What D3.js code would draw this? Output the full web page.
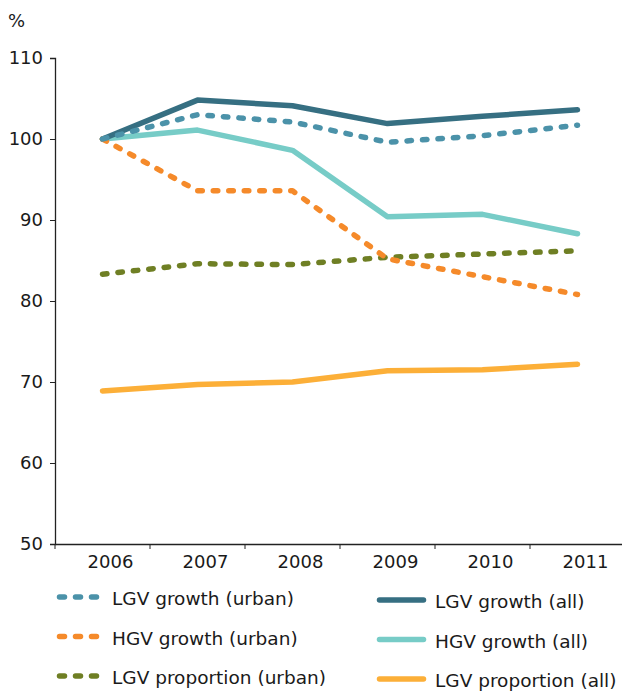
<!DOCTYPE html>
<html>
<head>
<meta charset="utf-8">
<script src="https://cdn.jsdelivr.net/npm/d3@7"></script>
<style>
  body { margin: 0; background: #fff; }
  svg text { font-family: "DejaVu Sans", Verdana, sans-serif; fill: #1a1a1a; }
</style>
</head>
<body>
<div id="chart"></div>
<script>
// data
var years = ["2006", "2007", "2008", "2009", "2010", "2011"];
var yTicks = [50, 60, 70, 80, 90, 100, 110];

var lgvGrowthUrban = [100, 103.0, 102.1, 99.6, 100.4, 101.7];
var hgvGrowthUrban = [100, 93.6, 93.6, 85.2, 83.0, 80.8];
var lgvPropUrban   = [83.3, 84.6, 84.5, 85.4, 85.8, 86.2];
var lgvGrowthAll   = [100, 104.8, 104.1, 101.9, 102.8, 103.6];
var hgvGrowthAll   = [100, 101.1, 98.6, 90.4, 90.7, 88.3];
var lgvPropAll     = [68.9, 69.7, 70.0, 71.4, 71.5, 72.2];

var seriesNames = ["LGV growth (urban)", "HGV growth (urban)", "LGV proportion (urban)",
                   "LGV growth (all)", "HGV growth (all)", "LGV proportion (all)"];

var series = [
  {name: seriesNames[0], values: lgvGrowthUrban, color: "#4b92a9", dashed: true},
  {name: seriesNames[1], values: hgvGrowthUrban, color: "#f58a2a", dashed: true},
  {name: seriesNames[2], values: lgvPropUrban,   color: "#6f7f24", dashed: true},
  {name: seriesNames[3], values: lgvGrowthAll,   color: "#366f82", dashed: false},
  {name: seriesNames[4], values: hgvGrowthAll,   color: "#77ccc7", dashed: false},
  {name: seriesNames[5], values: lgvPropAll,     color: "#fcaf38", dashed: false}
];

var width = 622, height = 692;
var margin = {top: 58, left: 55, right: -3, bottom: 148};

var svg = d3.select("#chart").append("svg")
  .attr("width", width)
  .attr("height", height);

var x = d3.scaleBand()
  .domain(years)
  .range([margin.left, width - margin.right]);

var y = d3.scaleLinear()
  .domain([50, 110])
  .range([height - margin.bottom, margin.top]);

// y axis
var yAxis = svg.append("g")
  .attr("transform", "translate(" + margin.left + ",0)")
  .call(d3.axisLeft(y).tickValues(yTicks).tickSize(5).tickPadding(7));
yAxis.select(".domain").attr("stroke", "#222").attr("stroke-width", 1.3);
yAxis.selectAll(".tick line").attr("stroke", "#222");
yAxis.selectAll("text").attr("font-size", 18).style("fill", "#1a1a1a");

// x axis, ticks sit on band edges
var xAxis = svg.append("g")
  .attr("transform", "translate(0," + (height - margin.bottom) + ")")
  .call(d3.axisBottom(x).tickSize(0).tickPadding(11));
xAxis.select(".domain").attr("stroke", "#222").attr("stroke-width", 1.3);
xAxis.selectAll("text")
  .attr("font-size", 18)
  .attr("dx", 8)
  .style("fill", "#1a1a1a");
xAxis.selectAll("line.edge")
  .data(years)
  .enter()
  .append("line")
  .attr("class", "edge")
  .attr("x1", function(d) { return x(d); })
  .attr("x2", function(d) { return x(d); })
  .attr("y1", 0)
  .attr("y2", 5)
  .attr("stroke", "#222");

// unit label
svg.append("text")
  .attr("x", 8)
  .attr("y", 27)
  .attr("font-size", 18)
  .text("%");

var line = d3.line()
  .x(function(d, i) { return x(years[i]) + x.bandwidth() / 2; })
  .y(function(d) { return y(d); });

// draw solid lines first, then dashed on top
var drawOrder = [5, 4, 3, 2, 1, 0];
svg.append("g")
  .selectAll("path.series")
  .data(drawOrder.map(function(i) { return series[i]; }))
  .enter()
  .append("path")
  .attr("class", "series")
  .attr("fill", "none")
  .attr("stroke", function(d) { return d.color; })
  .attr("stroke-width", 5.5)
  .attr("stroke-linecap", "round")
  .attr("stroke-linejoin", "round")
  .attr("stroke-dasharray", function(d) { return d.dashed ? "4.5,11" : null; })
  .attr("d", function(d) { return line(d.values); });

// legend, two columns
var legend = svg.append("g").attr("class", "legend");
var items = legend.selectAll("g.item")
  .data(series)
  .enter()
  .append("g")
  .attr("class", "item")
  .attr("transform", function(d, i) {
    var col = Math.floor(i / 3), row = i % 3;
    var lx = col === 0 ? 59.5 : 379.5;
    var ly = col === 0 ? 597 + row * 39.5 : 600 + row * 39.5;
    return "translate(" + lx + "," + ly + ")";
  });

items.append("line")
  .attr("x1", 0)
  .attr("x2", function(d) { return d.dashed ? 37 : 44; })
  .attr("y1", 0)
  .attr("y2", 0)
  .attr("stroke", function(d) { return d.color; })
  .attr("stroke-width", 5.5)
  .attr("stroke-linecap", "round")
  .attr("stroke-dasharray", function(d) { return d.dashed ? "5,11" : null; });

items.append("text")
  .attr("x", function(d) { return d.dashed ? 52.5 : 55.5; })
  .attr("y", 8)
  .attr("font-size", 18.5)
  .text(function(d) { return d.name; });
</script>
</body>
</html>
